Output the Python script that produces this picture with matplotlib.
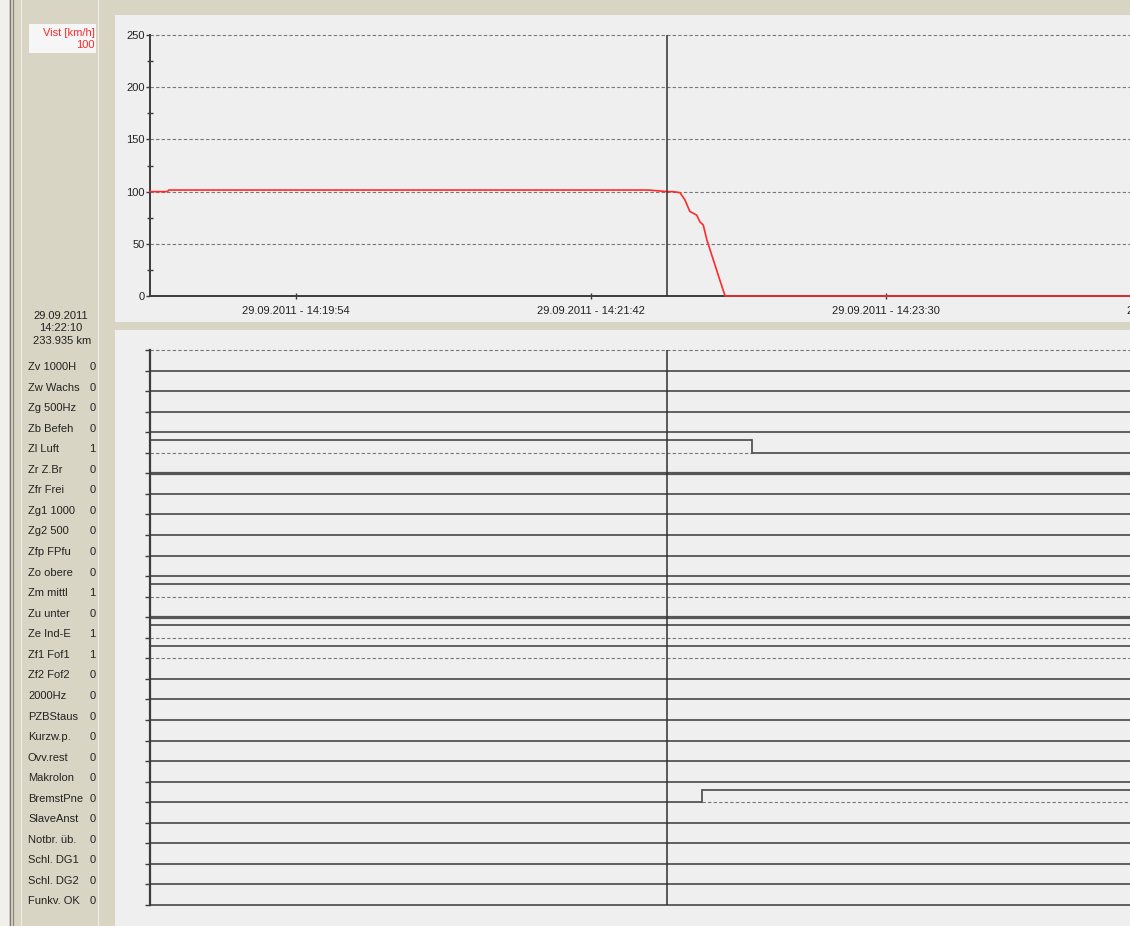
import matplotlib
matplotlib.use("Agg")
import matplotlib.pyplot as plt
import matplotlib.transforms as mtransforms
from matplotlib.patches import Rectangle
from matplotlib.lines import Line2D

plt.rcParams["font.family"] = ["Liberation Sans", "DejaVu Sans"]

# ---------------------------------------------------------------- data
record_date = "29.09.2011"
view_start = "14:19:00.6"
view_end = "14:24:59.3"
cursor_time = "14:22:10"
cursor_km = "233.935 km"

x_tick_times = ["14:19:54", "14:21:42", "14:23:30", "14:25:18"]
y_ticks = [0, 50, 100, 150, 200, 250]

# vehicle speed (km/h)
speed_times = ["14:19:00.6", "14:19:07", "14:19:07.5", "14:22:03", "14:22:10",
               "14:22:12", "14:22:14.6", "14:22:16.4", "14:22:18.2", "14:22:20.7",
               "14:22:21.9", "14:22:23.1", "14:22:24.4", "14:22:26.8", "14:22:29.2",
               "14:22:31.1", "14:24:59.3"]
speed_kmh = [100, 100, 101.5, 101.5, 100, 100, 99, 92, 81, 77.5,
             71, 68, 54, 34.5, 15, 0, 0]

# digital channels
signal_labels = ["Zv 1000H", "Zw Wachs", "Zg 500Hz", "Zb Befeh", "Zl Luft", "Zr Z.Br",
                 "Zfr Frei", "Zg1 1000", "Zg2 500", "Zfp FPfu", "Zo obere", "Zm mittl",
                 "Zu unter", "Ze Ind-E", "Zf1 Fof1", "Zf2 Fof2", "2000Hz", "PZBStaus",
                 "Kurzw.p.", "Ovv.rest", "Makrolon", "BremstPne", "SlaveAnst",
                 "Notbr. üb.", "Schl. DG1", "Schl. DG2", "Funkv. OK"]
signal_start = [0, 0, 0, 0, 1, 0, 0, 0, 0, 0, 0, 1, 0, 1, 1, 0, 0, 0, 0, 0, 0,
                0, 0, 0, 0, 0, 0]
switch_rows = [4, 21]
switch_times = ["14:22:40.9", "14:22:22.6"]
switch_states = [0, 1]

# ---------------------------------------------------------------- helpers
def hms(s):
    h, m, sec = s.split(":")
    return int(h) * 3600 + int(m) * 60 + float(sec)


def state_at(row, t):
    st = signal_start[row]
    for r, tt, s in sorted(zip(switch_rows, map(hms, switch_times), switch_states),
                           key=lambda z: z[1]):
        if r == row and tt <= t:
            st = s
    return st


W, H = 1130, 926
BEIGE = "#d9d5c4"
PANEL = "#efefef"
INK = "#222222"
AXIS = "#3c3c3c"
TRACE = "#555555"
DASH = "#777777"
FS = 8.0


def fx(px):
    return px / W


def fy(py):
    return 1 - py / H


fig = plt.figure(figsize=(W / 100, H / 100), dpi=100, facecolor=BEIGE)

# window frame / panels
def frect(x0, y0, x1, y1, color, z=-2):
    fig.patches.append(Rectangle((fx(x0), fy(y1)), (x1 - x0) / W, (y1 - y0) / H,
                                 transform=fig.transFigure, facecolor=color,
                                 edgecolor="none", zorder=z))


frect(0, 0, 9, H, "#f1f0ea")
frect(115, 15, W, 322, PANEL)
frect(115, 330, W, H, PANEL)
frect(29, 24, 96, 53, "#f6f6f6", -1)
for x, c in [(10, "#7c7a70"), (12.5, "#8a887e"), (21, "#ecebe3"), (98, "#ecebe3")]:
    fig.lines.append(Line2D([fx(x), fx(x)], [0, 1], transform=fig.transFigure,
                            color=c, lw=0.9, zorder=-1))

t0, t1 = hms(view_start), hms(view_end)
tc = hms(cursor_time)

# ---------------------------------------------------------------- speed panel
axt = fig.add_axes([fx(150), fy(296), fx(W) - fx(150), (296 - 35) / H])
axt.set_zorder(5)
axt.set_facecolor("none")
axt.set_xlim(t0, t1)
axt.set_ylim(0, 250)
for s in ["top", "right"]:
    axt.spines[s].set_visible(False)
for s in ["left", "bottom"]:
    axt.spines[s].set_color(AXIS)
    axt.spines[s].set_linewidth(1.4)

for v in y_ticks[1:]:
    axt.axhline(v, color=DASH, lw=0.8, ls=(0, (3, 2)), clip_on=False, zorder=1)

axt.set_yticks(y_ticks)
axt.set_yticklabels([str(v) for v in y_ticks])
axt.set_yticks([v + 25 for v in y_ticks[:-1]], minor=True)
axt.tick_params(axis="y", which="major", direction="out", length=3, width=1,
                color=AXIS, pad=1, labelsize=FS, labelcolor=INK)
axt.tick_params(axis="y", which="minor", direction="inout", length=4, width=1,
                color=AXIS)

vis_ticks = [t for t in x_tick_times if hms(t) <= t1]
axt.set_xticks([hms(t) for t in vis_ticks])
axt.set_xticklabels([f"{record_date} - {t}" for t in vis_ticks])
axt.tick_params(axis="x", direction="inout", length=4, width=1, color=AXIS,
                pad=5, labelsize=FS, labelcolor=INK)
xtrans = mtransforms.offset_copy(
    mtransforms.blended_transform_factory(axt.transData, axt.transAxes),
    fig=fig, y=-7, units="points")
for t in x_tick_times:
    if hms(t) > t1:
        axt.text(hms(t), 0, f"{record_date} - {t}", transform=xtrans, ha="center",
                 va="top", fontsize=FS, color=INK, clip_on=False)

axt.plot([hms(t) for t in speed_times], speed_kmh, color="#ff2a2a", lw=1.2,
         zorder=3, clip_on=False)
axt.axvline(tc, color="#303030", lw=1.1, zorder=4)

# ---------------------------------------------------------------- digital panel
axb = fig.add_axes([fx(150), fy(905), fx(W) - fx(150), (905 - 350) / H])
axb.set_zorder(5)
axb.set_facecolor("none")
axb.set_xlim(t0, t1)
n = len(signal_labels)
axb.set_ylim(n - 1, -1)
for s in ["top", "right", "bottom"]:
    axb.spines[s].set_visible(False)
axb.spines["left"].set_color(AXIS)
axb.spines["left"].set_linewidth(1.6)
axb.set_xticks([])
axb.set_yticks(range(-1, n))
axb.set_yticklabels([])
axb.tick_params(axis="y", direction="out", length=3.5, width=1, color=AXIS)
axb.axhline(-1, color=DASH, lw=0.8, ls=(0, (3, 2)), clip_on=False)

HI = 0.615
heavy_rows = [5, 12]
for i in range(n):
    edges = [t0] + sorted(hms(t) for r, t in zip(switch_rows, switch_times) if r == i) + [t1]
    lw = 2.3 if i in heavy_rows else 1.3
    prev = None
    for a, b in zip(edges[:-1], edges[1:]):
        st = state_at(i, (a + b) / 2)
        if st:
            axb.plot([a, b], [i - HI, i - HI], color=TRACE, lw=lw,
                     solid_capstyle="butt", clip_on=False)
            axb.plot([a, b], [i, i], color=DASH, lw=0.8, ls=(0, (3, 2)), clip_on=False)
        else:
            axb.plot([a, b], [i, i], color=TRACE, lw=lw, solid_capstyle="butt",
                     clip_on=False)
        if prev is not None and prev != st:
            axb.plot([a, a], [i, i - HI], color=TRACE, lw=1.3, clip_on=False)
        prev = st

axb.axvline(tc, color="#303030", lw=1.1, zorder=4)

# ---------------------------------------------------------------- left column
row_trans = mtransforms.offset_copy(
    mtransforms.blended_transform_factory(fig.transFigure, axb.transData),
    fig=fig, y=3.5, units="dots")
for i, name in enumerate(signal_labels):
    fig.text(fx(28), i, name, transform=row_trans, ha="left", va="center",
             fontsize=FS, color=INK)
    fig.text(fx(95.5), i, str(state_at(i, tc)), transform=row_trans, ha="right",
             va="center", fontsize=FS, color=INK)

fig.text(fx(61), fy(316), record_date, ha="center", va="center", fontsize=FS, color=INK)
fig.text(fx(61), fy(328), cursor_time, ha="center", va="center", fontsize=FS, color=INK)
fig.text(fx(62), fy(341), cursor_km, ha="center", va="center", fontsize=FS, color=INK)

cursor_speed = speed_kmh[speed_times.index(cursor_time)]
fig.text(fx(95), fy(33), "Vist [km/h]", ha="right", va="center", fontsize=FS,
         color="#ff2a2a")
fig.text(fx(95), fy(45), f"{cursor_speed:g}", ha="right", va="center", fontsize=FS,
         color="#ff2a2a")

fig.savefig("out.png", dpi=100, facecolor=BEIGE)
